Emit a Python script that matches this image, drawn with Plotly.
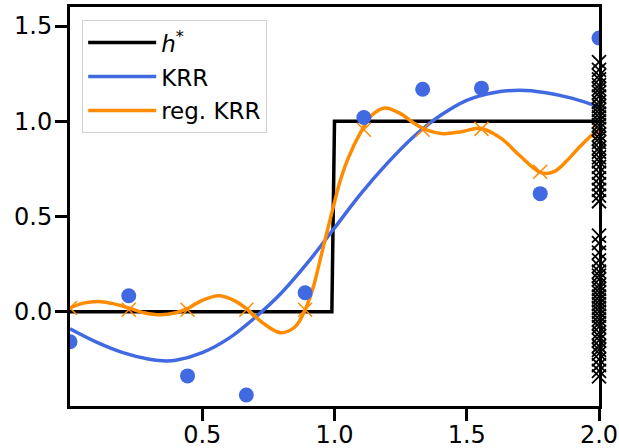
import plotly.graph_objects as go

# ---- data ----
x_train = [0.0, 0.2222, 0.4444, 0.6667, 0.8889, 1.1111, 1.3333, 1.5556, 1.7778, 2.0]
y_train = [-0.158, 0.084, -0.337, -0.437, 0.10, 1.02, 1.168, 1.174, 0.62, 1.437]
y_reg_targets = [0.02, 0.01, 0.01, 0.01, 0.01, 0.955, 0.955, 0.96, 0.735, 0.95]

h_x = [0.0, 0.99, 1.0, 2.0]
h_y = [0.0, 0.0, 1.0, 1.0]

krr_x = [0.0, 0.1, 0.2, 0.3, 0.35, 0.4, 0.5, 0.6, 0.7, 0.8, 0.9, 1.0, 1.1, 1.2,
         1.3, 1.4, 1.5, 1.6, 1.7, 1.8, 1.9, 2.0]
krr_y = [-0.09, -0.16, -0.215, -0.25, -0.258, -0.255, -0.215, -0.14, -0.03, 0.10,
         0.26, 0.44, 0.62, 0.78, 0.92, 1.03, 1.11, 1.15, 1.163, 1.15, 1.12, 1.075]

reg_x = [0.0, 0.05, 0.117, 0.17, 0.222, 0.28, 0.343, 0.4, 0.444, 0.5, 0.563, 0.62,
         0.664, 0.73, 0.796, 0.85, 0.889, 0.92, 0.947, 0.97, 0.99, 1.02, 1.05, 1.098,
         1.14, 1.19, 1.25, 1.30, 1.35, 1.41, 1.48, 1.55, 1.63, 1.70, 1.78, 1.83, 1.88,
         1.93, 1.98, 2.0]
reg_y = [0.02, 0.045, 0.053, 0.04, 0.02, -0.005, -0.016, -0.005, 0.016, 0.06, 0.084,
         0.06, 0.02, -0.06, -0.11, -0.08, 0.01, 0.13, 0.28, 0.41, 0.52, 0.68, 0.80,
         0.94, 1.03, 1.07, 1.04, 0.99, 0.953, 0.935, 0.945, 0.963, 0.91, 0.82, 0.73,
         0.735, 0.795, 0.87, 0.935, 0.95]

edge_y = [1.31, 1.27, 1.24, 1.22, 1.19, 1.17, 1.15, 1.13, 1.10, 1.08, 1.06, 1.04,
          1.02, 1.0, 0.98, 0.96, 0.93, 0.91, 0.89, 0.86, 0.84, 0.81, 0.79, 0.76,
          0.73, 0.70, 0.67, 0.64, 0.61, 0.58,
          0.40, 0.36, 0.31, 0.27, 0.24, 0.21, 0.19, 0.17, 0.14, 0.12, 0.10, 0.08,
          0.06, 0.04, 0.02, 0.00, -0.02, -0.04, -0.06, -0.08, -0.11, -0.13, -0.15,
          -0.18, -0.20, -0.22, -0.25, -0.28, -0.31, -0.34]
edge_x = [2.0] * len(edge_y)

x_ticks = [0.5, 1.0, 1.5, 2.0]
y_ticks = [0.0, 0.5, 1.0, 1.5]

BLUE = "#4169E1"
ORANGE = "#FF8C00"

fig = go.Figure()
fig.add_trace(go.Scatter(x=h_x, y=h_y, mode="lines", name="<i>h</i><sup>*</sup>",
                         legendgroup="a",
                         line=dict(color="black", width=3.5)))
fig.add_trace(go.Scatter(x=krr_x, y=krr_y, mode="lines", name="KRR", legendgroup="b",
                         line=dict(color=BLUE, width=3.5, shape="spline")))
fig.add_trace(go.Scatter(x=reg_x, y=reg_y, mode="lines", name="reg. KRR", legendgroup="c",
                         line=dict(color=ORANGE, width=3.5, shape="spline")))
fig.add_trace(go.Scatter(x=x_train, y=y_reg_targets, mode="markers", showlegend=False,
                         marker=dict(symbol="x-thin", size=14, color=ORANGE,
                                     line=dict(color=ORANGE, width=1.5))))
fig.add_trace(go.Scatter(x=x_train, y=y_train, mode="markers", showlegend=False,
                         marker=dict(symbol="circle", size=15, color=BLUE)))
fig.add_trace(go.Scatter(x=edge_x, y=edge_y, mode="markers", showlegend=False,
                         cliponaxis=False,
                         marker=dict(symbol="x-thin", size=14, color="black",
                                     line=dict(color="black", width=1.8))))

axis_common = dict(showgrid=False, zeroline=False, showline=True, linecolor="black",
                   linewidth=3, mirror=True, ticks="outside", ticklen=12, tickwidth=3,
                   automargin=False, ticklabeloverflow="allow",
                   tickcolor="black", tickfont=dict(family="DejaVu Sans", size=24, color="black"))

fig.update_xaxes(range=[0, 2], tickvals=x_ticks, ticktext=[f"{v:.1f}" for v in x_ticks],
                 ticklabelstandoff=-7, **axis_common)
fig.update_yaxes(range=[-0.495, 1.6], tickvals=y_ticks, ticktext=[f"{v:.1f}" for v in y_ticks],
                 ticklabelstandoff=-2, **axis_common)

fig.update_layout(
    width=619, height=448,
    margin=dict(l=70, r=20, t=7, b=42),
    plot_bgcolor="white", paper_bgcolor="white",
    font=dict(family="DejaVu Sans", size=23, color="black"),
    legend=dict(x=0.023, y=0.967, xanchor="left", yanchor="top",
                bgcolor="rgba(255,255,255,0.8)", bordercolor="#d0d0d0", borderwidth=1,
                font=dict(family="DejaVu Sans", size=23), itemwidth=68,
                tracegroupgap=1),
    showlegend=True,
)

fig.write_html("out.html", config={"displayModeBar": False},
               post_script="document.body.style.margin='0';")
